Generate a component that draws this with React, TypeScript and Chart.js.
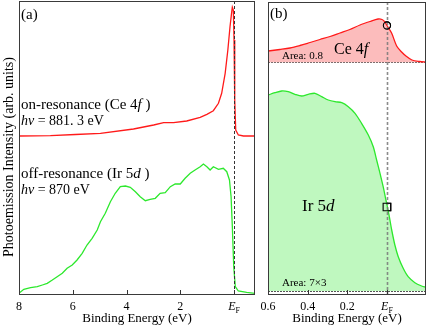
import React, { useEffect, useRef } from "react";
import { Chart, registerables } from "chart.js";

Chart.register(...registerables);

const FONT = '"Liberation Serif", "Times New Roman", serif';

// ---- Panel (a): wide-range spectra (binding energy in eV, intensity arb. units)
const onResE = [7.98, 6.83, 5.9, 4.97, 3.74, 2.99, 2.62, 2.25, 1.76, 1.26, 1.01, 0.77, 0.58, 0.46, 0.33, 0.23, 0.15, 0.085, 0.063, 0.026, 0, -0.026, -0.063, -0.16, -0.35, -0.78];
const onResI = [159, 159.3, 160.5, 161.7, 166, 170, 172.3, 172.3, 174, 177.7, 180.7, 184.3, 191.7, 201.7, 221.7, 245, 268.3, 283.3, 287.7, 285, 255, 195, 165, 160, 159, 159];

const offResE = [7.98, 7.82, 7.57, 7.32, 7.13, 6.95, 6.76, 6.58, 6.39, 6.21, 6.02, 5.84, 5.65, 5.47, 5.28, 5.09, 4.97, 4.79, 4.6, 4.42, 4.23, 4.04, 3.86, 3.67, 3.49, 3.3, 3.12, 2.93, 2.75, 2.56, 2.37, 2.19, 2.0, 1.82, 1.63, 1.45, 1.26, 1.14, 1.01, 0.89, 0.77, 0.58, 0.4, 0.27, 0.17, 0.11, 0.063, 0.011, -0.048, -0.16, -0.47, -0.78];
const offResI = [2.3, 5.7, 7.3, 8.3, 10, 11.7, 15, 18.3, 21.7, 26.7, 30, 35, 41.7, 50, 56.7, 65, 73.3, 81.7, 93.3, 101.7, 108.3, 109, 107.7, 103.3, 98.3, 94.3, 95.7, 96.7, 101.7, 102.3, 108.3, 111, 111, 116.7, 121.7, 125, 128.3, 131, 128.3, 125, 128.3, 125.7, 126.7, 123.3, 115, 98.3, 68.3, 28.3, 8.3, 4, 2.7, 1.7];

const ticksA = [8, 6, 4, 2, 0];
const rangeA = { min: -0.78, max: 8, yMin: 0, yMax: 294 };

// ---- Panel (b): near-EF spectra
const ceE = [0.599, 0.54, 0.489, 0.439, 0.388, 0.338, 0.287, 0.237, 0.187, 0.136, 0.086, 0.045, 0.025, 0.01, 0, -0.024, -0.049, -0.074, -0.096, -0.126, -0.166, -0.197];
const ceI = [244, 245.5, 247, 249.5, 252.5, 255.5, 258.5, 262, 265.5, 270, 273.5, 276, 275.5, 273, 269.5, 261.7, 249, 243, 239, 235, 233.5, 233];

const irE = [0.599, 0.565, 0.531, 0.498, 0.464, 0.43, 0.397, 0.363, 0.329, 0.296, 0.262, 0.228, 0.195, 0.161, 0.128, 0.094, 0.069, 0.052, 0.035, 0.019, 0.007, -0.002, -0.012, -0.024, -0.04, -0.057, -0.082, -0.107, -0.141, -0.175, -0.197];
const irI = [200, 202.3, 204, 203.3, 200.7, 199, 200.7, 201.7, 198.3, 195, 193.3, 192.3, 188.3, 181.7, 171.7, 160, 148.3, 135, 121.7, 108.3, 96.7, 88.3, 78.3, 65, 50, 38.3, 26.7, 18.3, 12.3, 9, 7.7];

const ceBase = 232.7;
const irBase = 4;
const ceMarker = [{ x: 0, y: 269.5 }];
const irMarker = [{ x: 0, y: 88 }];

const ticksB = [0.6, 0.4, 0.2, 0];
const rangeB = { min: -0.197, max: 0.6, yMin: 0, yMax: 293 };

const RED = "#ff1a1a";
const GREEN = "#2de82d";
const RED_FILL = "#fcbcbc";
const GREEN_FILL = "#bff8bf";

type Part = [string, boolean];

function drawRich(ctx: CanvasRenderingContext2D, x: number, y: number, parts: Part[], size: number) {
  let cx = x;
  ctx.textAlign = "left";
  ctx.textBaseline = "alphabetic";
  ctx.fillStyle = "#000";
  for (const [t, it] of parts) {
    ctx.font = `${it ? "italic " : ""}${size}px ${FONT}`;
    ctx.fillText(t, cx, y);
    cx += ctx.measureText(t).width;
  }
}

function drawEF(ctx: CanvasRenderingContext2D, cx: number, baseline: number) {
  ctx.textAlign = "left";
  ctx.textBaseline = "alphabetic";
  ctx.fillStyle = "#000";
  ctx.font = `italic 12px ${FONT}`;
  const w1 = ctx.measureText("E").width;
  ctx.font = `8px ${FONT}`;
  const w2 = ctx.measureText("F").width;
  const start = cx - (w1 + w2) / 2;
  ctx.font = `italic 12px ${FONT}`;
  ctx.fillText("E", start, baseline);
  ctx.font = `8px ${FONT}`;
  ctx.fillText("F", start + w1, baseline + 3);
}

function frame(chart: any, ticks: number[], efColor: string, efWidth: number) {
  const { ctx, chartArea: a, scales } = chart;
  const x = scales.x;
  ctx.save();
  const xf = Math.round(x.getPixelForValue(0)) + 0.5;
  ctx.strokeStyle = efColor;
  ctx.lineWidth = efWidth;
  ctx.setLineDash([3, 2]);
  ctx.beginPath();
  ctx.moveTo(xf, a.top);
  ctx.lineTo(xf, a.bottom);
  ctx.stroke();
  ctx.setLineDash([]);
  ctx.strokeStyle = "#333";
  ctx.lineWidth = 1;
  for (const v of ticks) {
    const px = Math.round(x.getPixelForValue(v)) + 0.5;
    ctx.beginPath();
    ctx.moveTo(px, a.bottom);
    ctx.lineTo(px, a.bottom - 5);
    ctx.stroke();
  }
  ctx.strokeStyle = "#3a3a3a";
  ctx.lineWidth = 1;
  ctx.strokeRect(a.left + 0.5, a.top + 0.5, a.right - a.left - 1, a.bottom - a.top - 1);
  drawEF(ctx, x.getPixelForValue(0), 310);
  ctx.restore();
}

const plugA = {
  id: "plugA",
  afterDraw(chart: any) {
    const { ctx } = chart;
    frame(chart, ticksA, "#333", 1);
    ctx.save();
    drawRich(ctx, 21, 19, [["(a)", false]], 15);
    drawRich(ctx, 21, 109, [["on-resonance (Ce 4", false], ["f", true], [" )", false]], 15);
    drawRich(ctx, 21, 125, [["hν", true], [" = 881. 3 eV", false]], 14);
    drawRich(ctx, 21, 178, [["off-resonance (Ir 5", false], ["d", true], [" )", false]], 15);
    drawRich(ctx, 21, 194, [["hν", true], [" = 870 eV", false]], 14);
    ctx.translate(9, 157);
    ctx.rotate(-Math.PI / 2);
    ctx.font = `14px ${FONT}`;
    ctx.textAlign = "center";
    ctx.textBaseline = "middle";
    ctx.fillStyle = "#000";
    ctx.fillText("Photoemission Intensity (arb. units)", 0, 0);
    ctx.restore();
  },
};

const plugB = {
  id: "plugB",
  beforeDatasetsDraw(chart: any) {
    const { ctx, chartArea: a, scales } = chart;
    ctx.save();
    ctx.strokeStyle = "#555";
    ctx.lineWidth = 1;
    ctx.setLineDash([2, 1]);
    for (const v of [ceBase, irBase]) {
      const py = Math.round(scales.y.getPixelForValue(v)) + 0.5;
      ctx.beginPath();
      ctx.moveTo(a.left, py);
      ctx.lineTo(a.right, py);
      ctx.stroke();
    }
    ctx.restore();
  },
  afterDraw(chart: any) {
    const { ctx } = chart;
    frame(chart, ticksB, "rgba(120,120,120,0.85)", 1.6);
    ctx.save();
    drawRich(ctx, 270, 18, [["(b)", false]], 15);
    drawRich(ctx, 334, 54, [["Ce 4", false], ["f", true]], 16);
    drawRich(ctx, 282, 59, [["Area: 0.8", false]], 11);
    drawRich(ctx, 302, 211, [["Ir 5", false], ["d", true]], 17);
    drawRich(ctx, 282, 286, [["Area: 7×3", false]], 11);
    ctx.restore();
  },
};

const markerPlug = {
  id: "markerPlug",
  afterDraw(chart: any) {
    // redraw the marker datasets on top of the dashed EF line
    const { ctx } = chart;
    ctx.save();
    for (const i of [2, 3]) {
      const meta = chart.getDatasetMeta(i);
      meta.data.forEach((el: any) => el.draw(ctx, chart.chartArea));
    }
    ctx.restore();
  },
};

function xScale(min: number, max: number, ticks: number[], digits: number) {
  return {
    type: "linear" as const,
    min,
    max,
    reverse: true,
    afterBuildTicks: (s: any) => {
      s.ticks = ticks.map((v) => ({ value: v }));
    },
    afterFit: (s: any) => {
      s.height = 31;
    },
    grid: { display: false, drawTicks: false },
    border: { display: false },
    ticks: {
      autoSkip: false,
      maxRotation: 0,
      padding: 5,
      color: "#000",
      font: { family: FONT, size: 12 },
      callback: (v: any) => (Number(v) === 0 ? "" : Number(v).toFixed(digits)),
    },
    title: {
      display: true,
      text: "Binding Energy (eV)",
      color: "#000",
      padding: 0,
      font: { family: FONT, size: 13 },
    },
  };
}

function pts(xs: number[], ys: number[]) {
  return xs.map((x, i) => ({ x, y: ys[i] }));
}

export default function App() {
  const refA = useRef<HTMLCanvasElement>(null);
  const refB = useRef<HTMLCanvasElement>(null);

  useEffect(() => {
    const chartA = new Chart(refA.current!, {
      type: "line",
      data: {
        datasets: [
          { data: pts(onResE, onResI), borderColor: RED, backgroundColor: RED, borderWidth: 1.3, pointRadius: 0, fill: false, tension: 0 },
          { data: pts(offResE, offResI), borderColor: GREEN, backgroundColor: GREEN, borderWidth: 1.3, pointRadius: 0, fill: false, tension: 0 },
        ],
      },
      options: {
        responsive: false,
        animation: false,
        devicePixelRatio: 1,
        layout: { autoPadding: false, padding: { left: 19, right: 172, top: 1, bottom: 0 } },
        plugins: { legend: { display: false }, tooltip: { enabled: false } },
        scales: {
          x: xScale(rangeA.min, rangeA.max, ticksA, 0),
          y: { type: "linear", min: rangeA.yMin, max: rangeA.yMax, display: false },
        },
      },
      plugins: [plugA],
    } as any);

    const chartB = new Chart(refB.current!, {
      type: "line",
      data: {
        datasets: [
          { data: pts(ceE, ceI), borderColor: RED, borderWidth: 1.3, pointRadius: 0, backgroundColor: RED_FILL, fill: { value: ceBase }, tension: 0.3 },
          { data: pts(irE, irI), borderColor: GREEN, borderWidth: 1.3, pointRadius: 0, backgroundColor: GREEN_FILL, fill: { value: irBase }, tension: 0.3 },
          { data: ceMarker, showLine: false, fill: false, pointStyle: "circle", pointRadius: 3.6, borderColor: "#000", backgroundColor: "rgba(0,0,0,0)", pointBorderColor: "#000", pointBackgroundColor: "rgba(0,0,0,0)", pointBorderWidth: 1.1 },
          { data: irMarker, showLine: false, fill: false, pointStyle: "rect", pointRadius: 5.4, borderColor: "#000", backgroundColor: "rgba(0,0,0,0)", pointBorderColor: "#000", pointBackgroundColor: "rgba(0,0,0,0)", pointBorderWidth: 1.1 },
        ],
      },
      options: {
        responsive: false,
        animation: false,
        devicePixelRatio: 1,
        layout: { autoPadding: false, padding: { left: 268, right: 1, top: 2, bottom: 0 } },
        plugins: { legend: { display: false }, tooltip: { enabled: false } },
        scales: {
          x: xScale(rangeB.min, rangeB.max, ticksB, 1),
          y: { type: "linear", min: rangeB.yMin, max: rangeB.yMax, display: false },
        },
      },
      plugins: [plugB, markerPlug],
    } as any);

    return () => {
      chartA.destroy();
      chartB.destroy();
    };
  }, []);

  const cs: React.CSSProperties = { position: "absolute", left: 0, top: 0, width: 427, height: 326 };
  return (
    <div style={{ position: "fixed", left: 0, top: 0, width: 427, height: 326, background: "#fff" }}>
      <canvas ref={refA} width={427} height={326} style={cs} />
      <canvas ref={refB} width={427} height={326} style={cs} />
    </div>
  );
}
